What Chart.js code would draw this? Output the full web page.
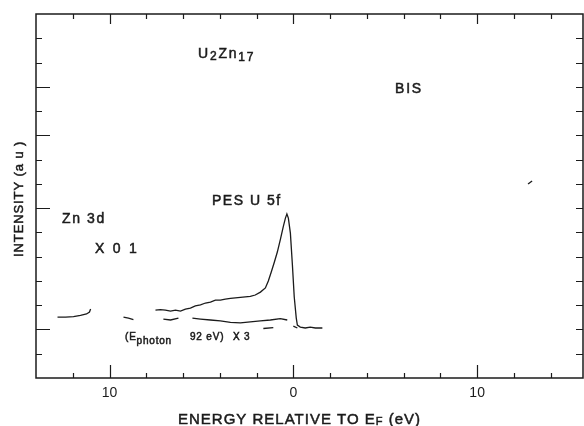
<!DOCTYPE html>
<html><head><meta charset="utf-8">
<script src="https://cdn.jsdelivr.net/npm/chart.js@4.4.1/dist/chart.umd.min.js"></script>
<style>html,body{margin:0;padding:0;background:#fff;}</style>
</head><body>
<canvas id="c" width="584" height="426"></canvas>
<script>
// ---- tick definitions ----
const xTickLabelValues = [-10, 0, 10];
const xTickMinorValues = [-12, -10, -8, -6, -4, -2, 0, 2, 4, 6, 8, 10, 12, 14];
const yTickValues = [1, 2, 3, 4, 5, 6, 7, 8, 9, 10, 11, 12, 13, 14];
const yMajorTicks = [2, 7, 10, 12];

// ---- series (energy relative to EF in eV, intensity in arbitrary units) ----
const zn3dX = [-12.83, -12.39, -11.96, -11.58, -11.25, -11.09, -11.03];
const zn3dY = [2.51, 2.51, 2.53, 2.58, 2.64, 2.72, 2.84];

const zn3dTailX = [-9.24, -8.97, -8.70];
const zn3dTailY = [2.51, 2.47, 2.41];

const pesX = [-7.50, -7.23, -6.96, -6.68, -6.41, -6.14, -5.87, -5.60, -5.33, -5.05, -4.78, -4.51, -4.24, -3.97,
              -3.70, -3.42, -3.15, -2.88, -2.61, -2.34, -2.07, -1.79, -1.52, -1.36, -1.20, -1.03, -0.87, -0.71,
              -0.54, -0.43, -0.35, -0.27, -0.16, -0.05, 0.05, 0.16, 0.22, 0.38, 0.65, 0.92, 1.20, 1.58];
const pesY = [2.80, 2.82, 2.80, 2.76, 2.80, 2.76, 2.84, 2.88, 2.97, 3.01, 3.09, 3.13, 3.21, 3.21,
              3.25, 3.28, 3.30, 3.32, 3.34, 3.36, 3.42, 3.54, 3.71, 4.00, 4.37, 4.78, 5.19, 5.69,
              6.26, 6.59, 6.76, 6.59, 5.97, 4.66, 3.34, 2.47, 2.18, 2.10, 2.06, 2.10, 2.06, 2.06];

const pesLowAX = [-7.07, -6.68, -6.25];
const pesLowAY = [2.43, 2.39, 2.47];

const pesLowBX = [-5.49, -5.05, -4.51, -3.97, -3.42, -2.88, -2.34, -1.79, -1.25, -0.71, -0.33];
const pesLowBY = [2.47, 2.43, 2.39, 2.35, 2.29, 2.27, 2.31, 2.35, 2.39, 2.45, 2.39];

const pesLowCX = [-1.63, -1.09];
const pesLowCY = [2.04, 2.08];

const pesLowDX = [0.00, 0.22];
const pesLowDY = [2.14, 2.06];

const bisX = [12.77, 12.99];
const bisY = [7.99, 8.12];

const seriesList = [
  [zn3dX, zn3dY], [zn3dTailX, zn3dTailY], [pesX, pesY],
  [pesLowAX, pesLowAY], [pesLowBX, pesLowBY], [pesLowCX, pesLowCY], [pesLowDX, pesLowDY],
  [bisX, bisY]
];

const INK = '#1b1b1b';
const FONT = '"Liberation Sans", Arial, Helvetica, sans-serif';

function toPoints(xs, ys) { return xs.map((v, i) => ({ x: v, y: ys[i] })); }

function drawRuns(ctx, x, y, runs, spacing) {
  let cx = x;
  for (const r of runs) {
    ctx.font = r.size + 'px ' + FONT;
    ctx.letterSpacing = ((r.ls !== undefined) ? r.ls : spacing) + 'px';
    ctx.fillText(r.t, cx, y + (r.dy || 0));
    ctx.strokeText(r.t, cx, y + (r.dy || 0));
    cx += ctx.measureText(r.t).width;
  }
  ctx.letterSpacing = '0px';
}

const framePlugin = {
  id: 'frameAndText',
  afterDraw(chart) {
    const { ctx, chartArea: a, scales: { x, y } } = chart;
    ctx.save();
    ctx.strokeStyle = INK;
    ctx.lineWidth = 1.5;
    ctx.strokeRect(a.left, a.top, a.right - a.left, a.bottom - a.top);
    ctx.lineWidth = 1.2;
    ctx.beginPath();
    for (const v of xTickMinorValues) {
      const px = Math.round(x.getPixelForValue(v)) + 0.5;
      const major = xTickLabelValues.includes(v);
      ctx.moveTo(px, a.bottom); ctx.lineTo(px, a.bottom - (major ? 13 : 5));
      ctx.moveTo(px, a.top); ctx.lineTo(px, a.top + (major ? 10 : 5));
    }
    for (const v of yTickValues) {
      const py = Math.round(y.getPixelForValue(v)) + 0.5;
      const major = yMajorTicks.includes(v);
      ctx.moveTo(a.left, py); ctx.lineTo(a.left + (major ? 14 : 6), py);
      ctx.moveTo(a.right, py); ctx.lineTo(a.right - 7, py);
    }
    ctx.stroke();

    ctx.fillStyle = INK;
    ctx.lineWidth = 0.5;
    ctx.textBaseline = 'alphabetic';
    ctx.textAlign = 'left';
    drawRuns(ctx, 198, 58, [{ t: 'U', size: 14 }, { t: '2', size: 12, dy: 2 }, { t: 'Zn', size: 14 }, { t: '17', size: 12, dy: 3 }], 1.8);
    drawRuns(ctx, 395, 93, [{ t: 'BIS', size: 14 }], 1.8);
    drawRuns(ctx, 212, 205, [{ t: 'PES U 5f', size: 14 }], 1.5);
    drawRuns(ctx, 62, 223, [{ t: 'Zn 3d', size: 14 }], 1.6);
    drawRuns(ctx, 95, 253, [{ t: 'X 0 1', size: 14 }], 2.3);
    drawRuns(ctx, 125, 340, [{ t: '(E', size: 10 }, { t: 'photon', size: 10, dy: 4 }], 0.8);
    drawRuns(ctx, 190, 340, [{ t: '92 eV)', size: 10 }], 0.8);
    drawRuns(ctx, 233, 340, [{ t: 'X 3', size: 10 }], 0.8);
    drawRuns(ctx, 178, 424, [{ t: 'ENERGY RELATIVE TO E', size: 15 }, { t: 'F', size: 11, dy: 1 }, { t: ' (eV)', size: 15 }], 1.0);

    ctx.translate(23, 257);
    ctx.rotate(-Math.PI / 2);
    drawRuns(ctx, 0, 0, [{ t: 'INTENSITY (a u )', size: 13 }], 0.9);
    ctx.restore();
  }
};

new Chart(document.getElementById('c'), {
  type: 'scatter',
  data: {
    datasets: seriesList.map(([xs, ys]) => ({
      data: toPoints(xs, ys),
      showLine: true,
      borderColor: INK,
      borderWidth: 1.3,
      pointRadius: 0,
      tension: 0,
      fill: false
    }))
  },
  options: {
    responsive: false,
    animation: false,
    devicePixelRatio: 1,
    layout: { padding: { left: 36, top: 14, right: 1, bottom: 0 } },
    plugins: { legend: { display: false }, tooltip: { enabled: false } },
    scales: {
      x: {
        type: 'linear',
        min: -14, max: 15.76,
        grid: { display: false, drawTicks: false },
        border: { display: false },
        afterBuildTicks(scale) { scale.ticks = xTickLabelValues.map(v => ({ value: v })); },
        afterFit(scale) { scale.height = 48; },
        ticks: {
          autoSkip: false, maxRotation: 0, padding: 7,
          color: INK,
          font: { size: 14, family: FONT },
          callback: (v) => String(Math.abs(v))
        }
      },
      y: {
        type: 'linear',
        display: false,
        min: 0, max: 15
      }
    }
  },
  plugins: [framePlugin]
});
</script>
</body></html>
